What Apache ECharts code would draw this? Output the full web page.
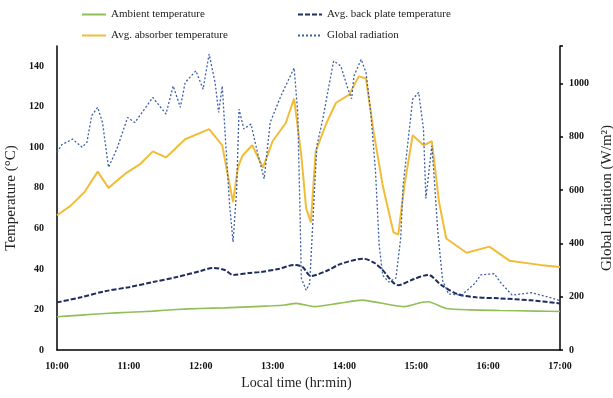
<!DOCTYPE html>
<html>
<head>
<meta charset="utf-8">
<script src="https://cdn.jsdelivr.net/npm/echarts@6/dist/echarts.min.js"></script>
<style>
  html, body { margin: 0; padding: 0; background: #fff; }
  #chart { width: 613px; height: 398px; }
</style>
</head>
<body>
<div id="chart"></div>
<script>
// Ambient temperature (°C)
const ambientTimes = ['10:00','10:20','10:40','11:00','11:20','11:40','12:00','12:20','12:40','13:00','13:10','13:20','13:35','13:55','14:15','14:30','14:50','15:05','15:10','15:25','15:45','16:10','16:40','17:00'];
const ambientTemp  = [16.4, 17.2, 18.0, 18.6, 19.2, 20.0, 20.5, 20.8, 21.3, 21.8, 22.2, 23.0, 21.4, 23.0, 24.6, 23.2, 21.4, 23.6, 23.8, 20.5, 19.8, 19.5, 19.2, 19.0];

// Average back plate temperature (°C)
const backTimes = ['10:00','10:20','10:40','11:00','11:20','11:40','12:00','12:10','12:20','12:27','12:40','12:50','13:05','13:18','13:25','13:32','13:45','13:57','14:16','14:25','14:31','14:45','14:58','15:10','15:21','15:35','15:50','16:09','16:36','17:00'];
const backTemp  = [23.5, 26, 29, 31, 33.5, 36, 39, 40.5, 39.5, 37, 38, 38.5, 40, 42, 41, 36.5, 39, 42.5, 45, 43, 40, 32, 35, 37, 32, 27.5, 26, 25.5, 24.5, 23];

// Average absorber temperature (°C)
const absorberTimes = ['10:00','10:11','10:23','10:34','10:43','10:57','11:10','11:20','11:31','11:47','12:07','12:18','12:23','12:27','12:31','12:35','12:43','12:52','13:00','13:11','13:18','13:24','13:28','13:32','13:36','13:45','13:53','14:04','14:12','14:18','14:24','14:32','14:41','14:45','14:50','14:57','15:06','15:13','15:19','15:25','15:42','16:01','16:18','16:43','17:00'];
const absorberTemp  = [66.5, 71, 78, 88, 80, 87, 92, 98, 95, 104, 109, 101, 85, 73, 90, 96, 101, 90, 103, 112, 124, 96, 70, 63, 98, 112, 122, 126, 135, 134, 109, 81, 58, 57, 81, 106, 101, 103, 73, 55, 48, 51, 44, 42, 41];

// Global radiation (W/m²)
const radTimes = ['10:00','10:04','10:13','10:21','10:25','10:29','10:34','10:38','10:43','10:50','10:59','11:05','11:20','11:31','11:37','11:43','11:47','11:56','12:02','12:07','12:12','12:15','12:18','12:21','12:24','12:27','12:30','12:32','12:36','12:42','12:48','12:53','12:58','13:07','13:18','13:21','13:23','13:24','13:28','13:31','13:35','13:37','13:42','13:47','13:51','13:57','14:03','14:06','14:08','14:14','14:18','14:22','14:26','14:29','14:32','14:37','14:43','14:47','14:49','14:57','15:02','15:06','15:08','15:13','15:15','15:18','15:22','15:27','15:38','15:49','15:54','16:05','16:11','16:20','16:36','16:51','17:00'];
const radiation = [741, 770, 791, 760, 779, 879, 910, 853, 685, 754, 872, 853, 947, 885, 990, 910, 1003, 1047, 978, 1110, 1003, 891, 990, 766, 550, 405, 600, 903, 829, 847, 729, 642, 853, 953, 1058, 891, 500, 270, 224, 250, 600, 766, 867, 990, 1084, 1065, 978, 942, 1028, 1090, 1040, 891, 666, 393, 280, 255, 270, 420, 617, 941, 966, 829, 568, 766, 642, 442, 260, 210, 206, 250, 282, 286, 250, 206, 215, 198, 185];

// Axis ticks
const timeTicks = ['10:00','11:00','12:00','13:00','14:00','15:00','16:00','17:00'];
const tempTicks = [0, 20, 40, 60, 80, 100, 120, 140];
const radTicks  = [0, 200, 400, 600, 800, 1000];

const toMin = s => { const p = s.split(':'); return (+p[0]) * 60 + (+p[1]); };
const fmtTime = v => Math.floor(v / 60) + ':' + String(v % 60).padStart(2, '0');
const pair = (times, vals) => times.map((t, i) => [toMin(t), vals[i]]);

const serif = 'Liberation Serif';
const labelStyle = { fontFamily: serif, fontSize: 10, fontWeight: 'bold', color: '#111' };
const nameStyle = { fontFamily: serif, fontSize: 15, color: '#222' };
const axisLine = { show: true, lineStyle: { color: '#000', width: 1.5 } };

// legend entries show only the line sample, no marker
const legendBase = {
  orient: 'horizontal', itemWidth: 24, itemHeight: 10, itemGap: 4,
  itemStyle: { opacity: 0 },
  textStyle: { fontFamily: serif, fontSize: 11, color: '#222' }
};

const chart = echarts.init(document.getElementById('chart'), null, { renderer: 'canvas' });
chart.setOption({
  animation: false,
  backgroundColor: '#fff',
  legend: [
    Object.assign({ data: ['Ambient temperature'], left: 76, top: 4 }, legendBase),
    Object.assign({ data: ['Avg. back plate temperature'], left: 292, top: 4 }, legendBase),
    Object.assign({ data: ['Avg. absorber temperature'], left: 76, top: 25 }, legendBase),
    Object.assign({ data: ['Global radiation'], left: 292, top: 25 }, legendBase)
  ],
  grid: { left: 57, right: 53, top: 46, bottom: 48, containLabel: false, outerBoundsMode: 'none' },
  xAxis: {
    type: 'value',
    min: toMin(timeTicks[0]),
    max: toMin(timeTicks[timeTicks.length - 1]),
    interval: 60,
    name: 'Local time (hr:min)',
    nameLocation: 'middle',
    nameGap: 25,
    nameTextStyle: Object.assign({}, nameStyle, { fontSize: 14, padding: [0, 24, 0, 0] }),
    axisLine: axisLine,
    axisTick: { show: false },
    splitLine: { show: false },
    axisLabel: Object.assign({ margin: 11, formatter: v => fmtTime(v) }, labelStyle)
  },
  yAxis: [
    {
      type: 'value',
      min: tempTicks[0], max: 150, interval: tempTicks[1] - tempTicks[0],
      name: 'Temperature (°C)',
      nameLocation: 'middle', nameGap: 33, nameRotate: 90,
      nameTextStyle: nameStyle,
      axisLine: axisLine,
      axisTick: { show: false },
      splitLine: { show: false },
      axisLabel: Object.assign({ margin: 13, formatter: v => tempTicks.includes(v) ? String(v) : '' }, labelStyle)
    },
    {
      type: 'value',
      min: radTicks[0], max: 1140, interval: radTicks[1] - radTicks[0],
      position: 'right',
      name: 'Global radiation (W/m²)',
      nameLocation: 'middle', nameGap: 34, nameRotate: 90,
      nameTextStyle: nameStyle,
      axisLine: axisLine,
      axisTick: { show: true, length: 3, lineStyle: { color: '#000', width: 1.5 } },
      splitLine: { show: false },
      axisLabel: Object.assign({ margin: 9, formatter: v => radTicks.includes(v) ? String(v) : '' }, labelStyle)
    }
  ],
  series: [
    {
      name: 'Ambient temperature', type: 'line', yAxisIndex: 0,
      data: pair(ambientTimes, ambientTemp),
      symbol: 'none', smooth: 0.2,
      lineStyle: { color: '#8fbf55', width: 1.6 },
      itemStyle: { color: '#8fbf55' }
    },
    {
      name: 'Avg. back plate temperature', type: 'line', yAxisIndex: 0,
      data: pair(backTimes, backTemp),
      symbol: 'none', smooth: 0.3,
      lineStyle: { color: '#1f2d5c', width: 2, type: [5, 2] },
      itemStyle: { color: '#1f2d5c' }
    },
    {
      name: 'Avg. absorber temperature', type: 'line', yAxisIndex: 0,
      data: pair(absorberTimes, absorberTemp),
      symbol: 'none',
      lineStyle: { color: '#f1bd38', width: 2 },
      itemStyle: { color: '#f1bd38' }
    },
    {
      name: 'Global radiation', type: 'line', yAxisIndex: 1,
      data: pair(radTimes, radiation),
      symbol: 'none',
      lineStyle: { color: '#3d5fa8', width: 1.3, type: [2, 2] },
      itemStyle: { color: '#3d5fa8' }
    }
  ]
});
</script>
</body>
</html>
